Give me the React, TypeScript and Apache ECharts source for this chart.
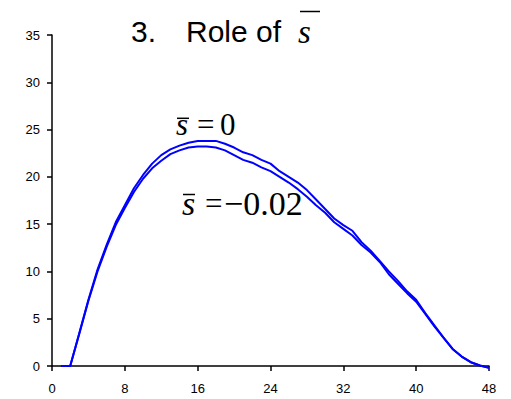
import React, { useEffect, useRef } from "react";
import * as echarts from "echarts";

const hours = [1, 2, 3, 4, 5, 6, 7, 8, 9, 10, 11, 12, 13, 14, 15, 16, 17, 18, 19, 20, 21, 22, 23, 24, 25, 26, 27, 28, 29, 30, 31, 32, 33, 34, 35, 36, 37, 38, 39, 40, 41, 42, 43, 44, 45, 46, 47, 48];
const sBarZero = [0, 0, 3.5, 7, 10.2, 12.8, 15.2, 17, 18.8, 20.2, 21.4, 22.3, 22.9, 23.3, 23.6, 23.8, 23.8, 23.8, 23.5, 23.1, 22.6, 22.3, 21.8, 21.4, 20.6, 20.0, 19.4, 18.6, 17.6, 16.6, 15.6, 14.9, 14.3, 13.1, 12.2, 11.1, 10.0, 9.0, 7.9, 7.0, 5.6, 4.3, 3.0, 1.8, 1.0, 0.4, 0.05, -0.2];
const sBarMinus002 = [0, 0, 3.4, 6.9, 10, 12.6, 14.9, 16.7, 18.4, 19.8, 20.9, 21.7, 22.4, 22.8, 23.1, 23.2, 23.2, 23.1, 22.8, 22.3, 21.8, 21.5, 21.0, 20.6, 20.0, 19.4, 18.7, 17.9, 17.0, 16.2, 15.2, 14.5, 13.8, 12.8, 12.0, 11.0, 9.7, 8.7, 7.7, 6.8, 5.5, 4.2, 3.0, 1.8, 1.0, 0.4, 0.05, -0.2];

const SANS = "'Liberation Sans', Arial, sans-serif";
const SERIF = "'Liberation Serif', 'Times New Roman', serif";

export default function App() {
  const ref = useRef<HTMLDivElement>(null);
  useEffect(() => {
    if (!ref.current) return;
    const chart = echarts.init(ref.current, null, { renderer: "svg" });
    const lineStyle = { color: "#0000ff", width: 2 };
    const txt = (x: number, y: number, text: string, font: string, extra: any = {}) => ({
      type: "text",
      x,
      y,
      style: { text, font, fill: "#000", textAlign: "left", textVerticalAlign: "middle", ...extra },
      silent: true,
    });
    const bar = (x1: number, x2: number, y: number) => ({
      type: "line",
      shape: { x1, y1: y, x2, y2: y },
      style: { stroke: "#000", lineWidth: 1.5 },
      silent: true,
    });
    chart.setOption({
      animation: false,
      backgroundColor: "#fff",
      grid: { left: 52, right: 22, top: 35, bottom: 33 },
      xAxis: {
        type: "value",
        min: 0,
        max: 48,
        interval: 8,
        axisLine: { show: true, onZero: false, lineStyle: { color: "#000", width: 1.5 } },
        axisTick: { show: true, length: 5, lineStyle: { color: "#000", width: 1.5 } },
        axisLabel: { color: "#000", fontFamily: SANS, fontSize: 13, margin: 16 },
        splitLine: { show: false },
      },
      yAxis: {
        type: "value",
        min: 0,
        max: 35,
        interval: 5,
        axisLine: { show: true, lineStyle: { color: "#000", width: 1.5 } },
        axisTick: { show: true, length: 5, lineStyle: { color: "#000", width: 1.5 } },
        axisLabel: { color: "#000", fontFamily: SANS, fontSize: 13, margin: 12 },
        splitLine: { show: false },
      },
      series: [
        {
          name: "s̄ = 0",
          type: "line",
          data: hours.map((h, i) => [h, sBarZero[i]]),
          showSymbol: false,
          symbol: "none",
          clip: false,
          lineStyle,
        },
        {
          name: "s̄ = −0.02",
          type: "line",
          data: hours.map((h, i) => [h, sBarMinus002[i]]),
          showSymbol: false,
          symbol: "none",
          clip: false,
          lineStyle,
        },
      ],
      graphic: [
        txt(131, 31.5, "3.", `30px ${SANS}`),
        txt(186, 31.5, "Role of", `30px ${SANS}`),
        txt(298, 32, "s", `italic 33px ${SERIF}`),
        bar(300, 320, 11.5),
        txt(176, 124, "s", `italic 31px ${SERIF}`),
        bar(177, 189, 118.3),
        txt(197, 124, "=", `31px ${SERIF}`),
        txt(220, 124, "0", `31px ${SERIF}`),
        txt(182, 203.5, "s", `italic 34px ${SERIF}`),
        bar(183, 195, 194.5),
        txt(205, 203.5, "=", `31px ${SERIF}`),
        txt(224, 203.5, "−0.02", `34px ${SERIF}`),
      ],
    });
    return () => chart.dispose();
  }, []);
  return (
    <div
      ref={ref}
      style={{ position: "fixed", left: 0, top: 0, width: 511, height: 399, background: "#fff" }}
    />
  );
}
